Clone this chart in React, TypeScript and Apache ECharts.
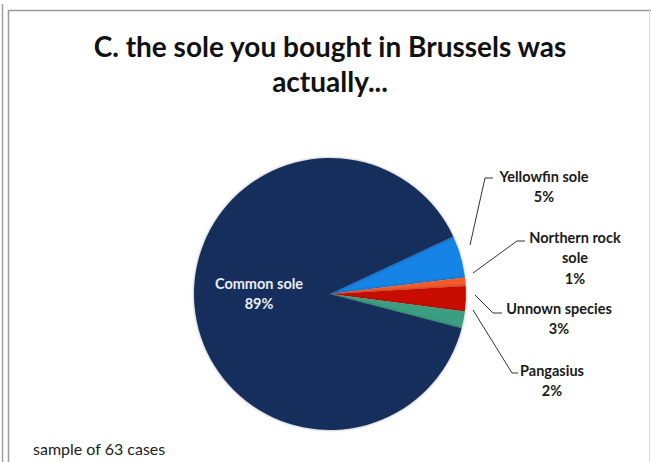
import React, { useEffect, useRef } from "react";
import * as echarts from "echarts";

const titleLines = ["C. the sole you bought in Brussels was", "actually..."];
const categories = ["Yellowfin sole", "Northern rock sole", "Unnown species", "Pangasius", "Common sole"];
const values = [5, 1, 3, 2, 89];
const colors = ["#1283e6", "#f25a2a", "#c81000", "#3a9e80", "#162d5c"];
const footnote = "sample of 63 cases";

const FONT = "Lato, 'Open Sans', sans-serif";

// label anchors (x center, first-line top) and leader line points
const labelPos: Record<number, { x: number; y: number; line?: number[][] }> = {
  0: { x: 544, y: 166, line: [[470, 245], [485, 178], [493, 178]] },
  1: { x: 575, y: 227, line: [[473, 273], [517, 241], [525, 241]] },
  2: { x: 559, y: 298, line: [[475, 295], [493, 313], [502, 313]] },
  3: { x: 552, y: 360, line: [[473, 310], [512, 373], [518, 373]] },
  4: { x: 259, y: 273 },
};

export default function App() {
  const ref = useRef<HTMLDivElement>(null);
  useEffect(() => {
    if (!ref.current) return;
    const chart = echarts.init(ref.current, null, { renderer: "svg" });
    const data = categories.map((name, i) => ({
      name,
      value: values[i],
      itemStyle: { color: colors[i] },
      label: i === 4 ? { color: "#e8ecf4" } : { color: "#1a1a1a" },
      labelLine: { show: i !== 4 },
    }));
    chart.setOption({
      animation: false,
      backgroundColor: "#ffffff",
      title: {
        text: titleLines.join("\n"),
        left: 325,
        textAlign: "center",
        top: 23,
        textStyle: {
          fontFamily: FONT,
          fontSize: 28,
          fontWeight: "bold",
          color: "#111",
          lineHeight: 35,
        },
      },
      graphic: [
        { type: "line", shape: { x1: 2.5, y1: 4, x2: 2.5, y2: 462 }, style: { stroke: "#a0a0a0", lineWidth: 1.5 } },
        { type: "line", shape: { x1: 8.5, y1: 10, x2: 8.5, y2: 462 }, style: { stroke: "#9a9a9a", lineWidth: 1.5 } },
        { type: "line", shape: { x1: 8, y1: 10.5, x2: 651, y2: 10.5 }, style: { stroke: "#9a9a9a", lineWidth: 1.5 } },
        { type: "line", shape: { x1: 649.5, y1: 10, x2: 649.5, y2: 462 }, style: { stroke: "#d8d8d8", lineWidth: 1 } },
        {
          type: "text",
          left: 33,
          top: 440,
          style: { text: footnote, fontFamily: FONT, fontSize: 16, fill: "#222" },
        },
      ],
      series: [
        {
          type: "pie",
          center: [330, 294],
          radius: 136,
          startAngle: 25,
          clockwise: true,
          data,
          itemStyle: {
            borderWidth: 0,
            shadowBlur: 3,
            shadowColor: "rgba(0,0,0,0.35)",
          },
          label: {
            show: true,
            fontFamily: FONT,
            fontSize: 14.5,
            fontWeight: "bold",
            lineHeight: 20.5,
            align: "center",
            formatter: (p: any) =>
              (p.name === "Northern rock sole" ? "Northern rock\nsole" : p.name) + "\n" + p.value + "%",
          },
          labelLine: {
            show: true,
            lineStyle: { color: "#333", width: 1 },
          },
          labelLayout: (params: any) => {
            const pos = labelPos[params.dataIndex];
            const out: any = { x: pos.x, y: pos.y, align: "center", verticalAlign: "top" };
            if (pos.line) out.labelLinePoints = pos.line;
            return out;
          },
        },
      ],
    });
    return () => chart.dispose();
  }, []);
  return (
    <div
      ref={ref}
      style={{ position: "fixed", left: 0, top: 0, width: 651, height: 462 }}
    />
  );
}
